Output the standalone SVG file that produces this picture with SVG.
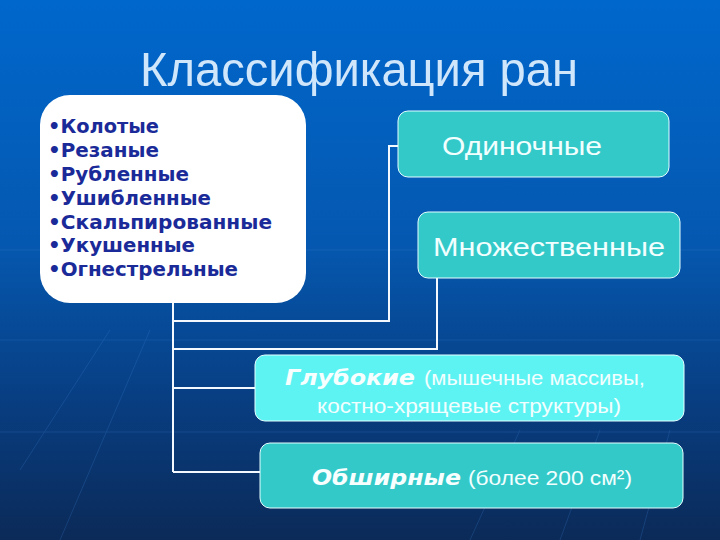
<svg xmlns="http://www.w3.org/2000/svg" width="720" height="540" viewBox="0 0 720 540">
<defs>
<linearGradient id="bg" x1="0" y1="0" x2="0" y2="1">
<stop offset="0" stop-color="#0067cc"/>
<stop offset="0.45" stop-color="#0558b0"/>
<stop offset="0.75" stop-color="#083d80"/>
<stop offset="1" stop-color="#0b2a58"/>
</linearGradient>
<style>
.title{font-family:"Liberation Sans",Arial,sans-serif;font-size:49px;fill:#cfe6fb}
.item{font-family:"DejaVu Sans",Verdana,sans-serif;font-weight:bold;font-size:19px;fill:#1a2a98}
.box{fill:#34c9c9;stroke:#e6ffff;stroke-width:1}
.box.bright{fill:#5ef3f3}
.lbl{font-family:"Liberation Sans",Arial,sans-serif;font-size:26px;fill:#f2ffff}
.sub{font-family:"Liberation Sans",Arial,sans-serif;font-size:20px;fill:#f2ffff}
.em{font-family:"DejaVu Sans",Verdana,sans-serif;font-weight:bold;font-style:italic;font-size:21px;fill:#f7ffff}
.conn{fill:none;stroke:#f4f8ff;stroke-width:2}
.grid{stroke:#3a7fd0;stroke-width:1;opacity:0.25;fill:none}
</style>
</defs>
<rect width="720" height="540" fill="url(#bg)"/>
<g class="grid">
<line x1="0" y1="340" x2="720" y2="340"/>
<line x1="0" y1="432" x2="720" y2="432"/>
<line x1="0" y1="250" x2="720" y2="250"/>
<path d="M60 540 L150 330 M20 470 L110 330 M470 540 L520 430 M560 540 L600 430 M640 540 L670 430"/>
</g>
<text class="title" x="359" y="86" text-anchor="middle" textLength="438" lengthAdjust="spacingAndGlyphs">Классификация ран</text>
<g id="connectors">
<path class="conn" d="M173 303 V472"/>
<path class="conn" d="M173 321 H389 V146 H398"/>
<path class="conn" d="M437 278 V349 H173"/>
<path class="conn" d="M173 388 H256"/>
<path class="conn" d="M173 472 H261"/>
</g>
<g id="types">
<rect x="40" y="95" width="266" height="208" rx="30" fill="#ffffff"/>
<text class="item" x="48" y="133" textLength="111" lengthAdjust="spacingAndGlyphs">•Колотые</text>
<text class="item" x="48" y="157" textLength="111" lengthAdjust="spacingAndGlyphs">•Резаные</text>
<text class="item" x="48" y="181" textLength="141" lengthAdjust="spacingAndGlyphs">•Рубленные</text>
<text class="item" x="48" y="205" textLength="163" lengthAdjust="spacingAndGlyphs">•Ушибленные</text>
<text class="item" x="48" y="229" textLength="224" lengthAdjust="spacingAndGlyphs">•Скальпированные</text>
<text class="item" x="48" y="252" textLength="147" lengthAdjust="spacingAndGlyphs">•Укушенные</text>
<text class="item" x="48" y="276" textLength="190" lengthAdjust="spacingAndGlyphs">•Огнестрельные</text>
</g>
<g id="single">
<rect class="box" x="398" y="111" width="271" height="66" rx="10"/>
<text class="lbl" x="522" y="155" text-anchor="middle" textLength="160" lengthAdjust="spacingAndGlyphs">Одиночные</text>
</g>
<g id="multiple">
<rect class="box" x="418" y="212" width="262" height="66" rx="10"/>
<text class="lbl" x="549" y="256" text-anchor="middle" textLength="232" lengthAdjust="spacingAndGlyphs">Множественные</text>
</g>
<g id="deep">
<rect class="box bright" x="255" y="355" width="429" height="66" rx="10"/>
<text class="em" x="285" y="385" textLength="130" lengthAdjust="spacingAndGlyphs">Глубокие</text>
<text class="sub" x="424" y="385" textLength="221" lengthAdjust="spacingAndGlyphs">(мышечные массивы,</text>
<text class="sub" x="317" y="413" textLength="304" lengthAdjust="spacingAndGlyphs">костно-хрящевые структуры)</text>
</g>
<g id="extensive">
<rect class="box" x="260" y="443" width="423" height="65" rx="10"/>
<text class="em" x="312" y="485" textLength="149" lengthAdjust="spacingAndGlyphs">Обширные</text>
<text class="sub" x="468" y="485" textLength="164" lengthAdjust="spacingAndGlyphs">(более 200 см²)</text>
</g>
</svg>
